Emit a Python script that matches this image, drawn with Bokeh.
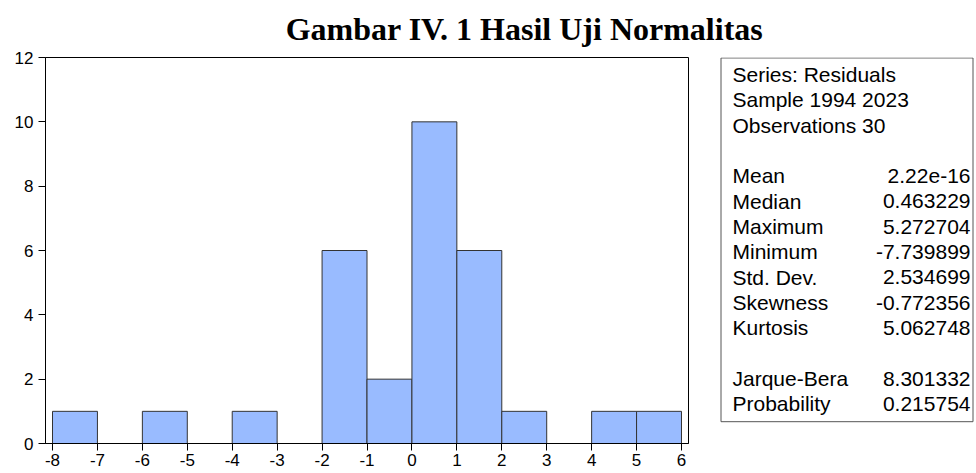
from bokeh.plotting import figure
from bokeh.models import Range1d, FixedTicker, ColumnDataSource
from bokeh.layouts import column, row
from bokeh.core.properties import value
from bokeh.embed import file_html
from bokeh.resources import INLINE

# ---- data ----
title_text = "Gambar IV. 1 Hasil Uji Normalitas"
bin_left = [-8, -7, -6, -5, -4, -3, -2, -1, 0, 1, 2, 3, 4, 5]
bin_right = [-7, -6, -5, -4, -3, -2, -1, 0, 1, 2, 3, 4, 5, 6]
counts = [1, 0, 1, 0, 1, 0, 6, 2, 10, 6, 1, 0, 1, 1]
x_ticks = [-8, -7, -6, -5, -4, -3, -2, -1, 0, 1, 2, 3, 4, 5, 6]
y_ticks = [0, 2, 4, 6, 8, 10, 12]

stat_labels = ["Series: Residuals", "Sample 1994 2023", "Observations 30", "",
               "Mean", "Median", "Maximum", "Minimum", "Std. Dev.", "Skewness",
               "Kurtosis", "", "Jarque-Bera", "Probability"]
stat_values = ["", "", "", "",
               "2.22e-16", "0.463229", "5.272704", "-7.739899", "2.534699",
               "-0.772356", "5.062748", "", "8.301332", "0.215754"]

SANS = "Liberation Sans"
SERIF = "Liberation Serif"

# ---- title strip ----
tfig = figure(width=976, height=50, x_range=Range1d(0, 976), y_range=Range1d(50, 0),
              x_axis_location=None, y_axis_location=None, toolbar_location=None,
              output_backend="svg", min_border=0, title=None, align="start")
tfig.outline_line_color = None
tfig.grid.visible = False
tfig.text(x=[524], y=[28], text=[title_text], text_font=value(SERIF),
          text_font_size=value("32px"), text_font_style="bold",
          text_align="center", text_baseline="middle", text_color="black")

# ---- histogram ----
src = ColumnDataSource(dict(
    left=[l for l, c in zip(bin_left, counts) if c > 0],
    right=[r for r, c in zip(bin_right, counts) if c > 0],
    top=[c for c in counts if c > 0],
))
hist = figure(width=700, height=423, x_range=Range1d(-8.156, 6.156), y_range=Range1d(0, 12),
              toolbar_location=None, output_backend="svg", title=None, align="start",
              min_border_left=45, min_border_right=12, min_border_top=7, min_border_bottom=30)
hist.quad(left="left", right="right", bottom=0, top="top", source=src,
          fill_color="#99BBFF", line_color="#333333", line_width=1)
hist.grid.visible = False
hist.outline_line_color = "black"
hist.outline_line_width = 1
for ax in (hist.xaxis[0], hist.yaxis[0]):
    ax.axis_line_color = "black"
    ax.major_tick_line_color = "black"
    ax.minor_tick_line_color = None
    ax.major_tick_in = 0
    ax.major_tick_out = 7
    ax.major_label_text_font = SANS
    ax.major_label_text_font_size = "17px"
    ax.major_label_text_color = "black"
hist.xaxis.ticker = FixedTicker(ticks=x_ticks)
hist.yaxis.ticker = FixedTicker(ticks=y_ticks)
hist.xaxis.major_label_overrides = {t: str(t) for t in x_ticks}
hist.yaxis.major_label_overrides = {t: str(t) for t in y_ticks}
hist.xaxis.major_label_standoff = 3
hist.yaxis.major_label_standoff = 5

# ---- statistics box (frame spans page y 57..473, x 700..976) ----
stats = figure(width=276, height=423, x_range=Range1d(700, 976), y_range=Range1d(473, 57),
               x_axis_location=None, y_axis_location=None, toolbar_location=None,
               output_backend="svg", min_border=0, min_border_top=7, title=None,
               align="start")
stats.outline_line_color = None
stats.grid.visible = False
stats.quad(left=[720.5], right=[972.5], top=[57.5], bottom=[449.5], fill_color=None,
           line_color="#555555", line_width=1)
ys = [75.5 + 27.3 * i for i in range(len(stat_labels))]
stats.text(x=[732] * len(stat_labels), y=ys, text=stat_labels, text_font=value(SANS),
           text_font_size=value("21px"), text_align="left", text_baseline="middle",
           text_color="black")
stats.text(x=[970] * len(stat_values), y=ys, text=stat_values, text_font=value(SANS),
           text_font_size=value("21px"), text_align="right", text_baseline="middle",
           text_color="black")

layout = column(tfig, row(hist, stats, spacing=0), spacing=0)
open("out.html", "w").write(file_html(layout, INLINE))
